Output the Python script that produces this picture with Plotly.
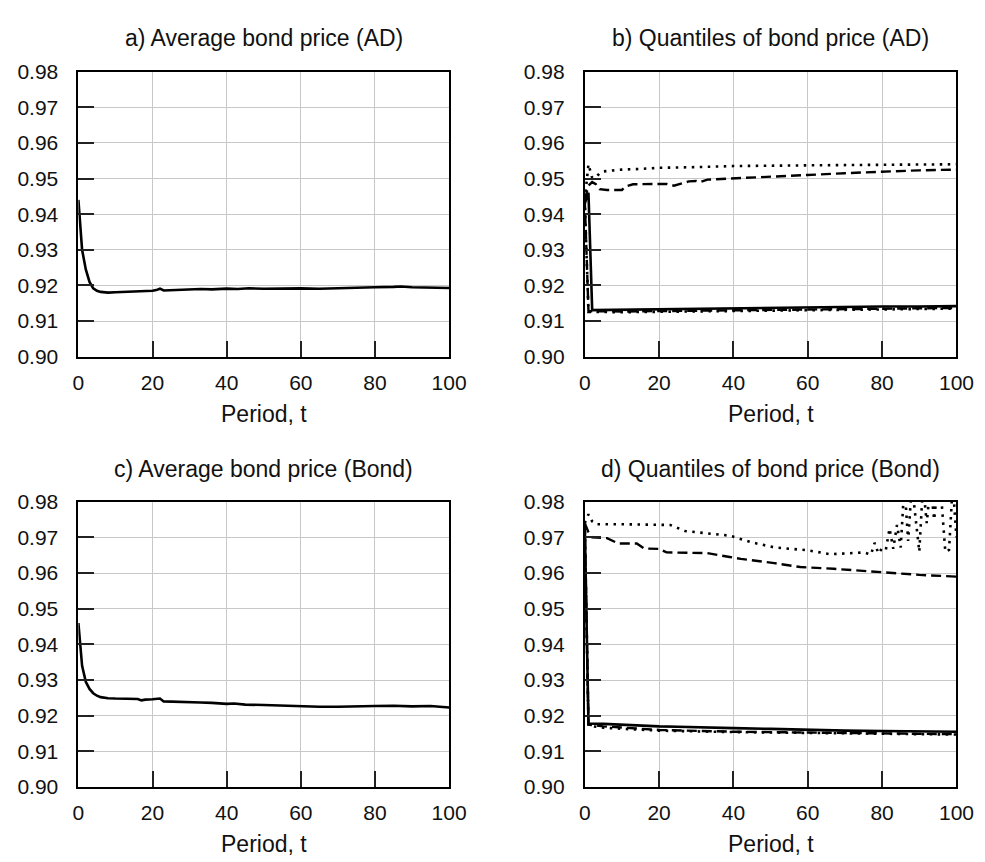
import plotly.graph_objects as go

# ---------------- data ----------------
# a) Average bond price (AD)
avg_ad_t = [0, 1, 2, 3, 4, 5, 6, 7, 8, 10, 12, 14, 16, 18, 20, 21, 22, 23, 25, 28, 30, 33, 36, 40,
            43, 46, 50, 55, 60, 65, 70, 75, 80, 85, 87, 90, 95, 100]
avg_ad_y = [0.9440, 0.9300, 0.9245, 0.9210, 0.9192, 0.9185, 0.9182, 0.9181, 0.9180, 0.9181, 0.9182,
            0.9181, 0.9183, 0.9184, 0.9185, 0.9187, 0.9191, 0.9186, 0.9187, 0.9188, 0.9188, 0.9190,
            0.9189, 0.9191, 0.9190, 0.9192, 0.9191, 0.9192, 0.9192, 0.9191, 0.9193, 0.9194, 0.9195,
            0.9196, 0.9197, 0.9195, 0.9194, 0.9193]

# c) Average bond price (Bond)
avg_bond_t = [0, 1, 2, 3, 4, 5, 6, 7, 8, 10, 12, 14, 16, 17, 18, 20, 21, 22, 23, 25, 28, 30, 33, 36,
              40, 42, 45, 50, 55, 60, 65, 70, 75, 80, 85, 90, 95, 100]
avg_bond_y = [0.9460, 0.9340, 0.9295, 0.9275, 0.9263, 0.9256, 0.9252, 0.9250, 0.9249, 0.9248, 0.9247,
              0.9248, 0.9247, 0.9243, 0.9245, 0.9246, 0.9247, 0.9248, 0.9240, 0.9239, 0.9239, 0.9238,
              0.9237, 0.9236, 0.9233, 0.9234, 0.9231, 0.9230, 0.9228, 0.9226, 0.9225, 0.9225, 0.9227,
              0.9227, 0.9228, 0.9226, 0.9227, 0.9223]

# b) Quantiles of bond price (AD)
b_q99_t = [0, 1, 2, 3, 4, 5, 7, 10, 15, 20, 30, 40, 60, 80, 100]
b_q99_y = [0.9440, 0.9540, 0.9502, 0.9503, 0.9515, 0.9520, 0.9522, 0.9525, 0.9527, 0.9530, 0.9532,
           0.9535, 0.9537, 0.9538, 0.9540]
b_q95_t = [0, 1, 2, 3, 4, 6, 10, 11, 13, 22, 24, 26, 28, 30, 31, 33, 40, 50, 60, 70, 80, 90, 100]
b_q95_y = [0.9440, 0.9480, 0.9490, 0.9484, 0.9470, 0.9468, 0.9468, 0.9478, 0.9484, 0.9485, 0.9480,
           0.9486, 0.9492, 0.9493, 0.9490, 0.9497, 0.9500, 0.9505, 0.9510, 0.9515, 0.9520, 0.9523, 0.9525]
b_q50_t = [0, 1, 2, 10, 20, 30, 40, 50, 60, 70, 80, 90, 100]
b_q50_y = [0.9430, 0.9460, 0.9131, 0.9132, 0.9133, 0.9135, 0.9137, 0.9138, 0.9139, 0.9140, 0.9141,
           0.9141, 0.9142]
b_q05_t = [0, 1, 10, 20, 30, 40, 50, 60, 70, 80, 90, 100]
b_q05_y = [0.9440, 0.9128, 0.9127, 0.9128, 0.9130, 0.9131, 0.9132, 0.9133, 0.9134, 0.9135, 0.9136, 0.9137]
b_q01_t = [0, 1, 10, 20, 30, 40, 50, 60, 70, 80, 90, 100]
b_q01_y = [0.9440, 0.9126, 0.9125, 0.9126, 0.9128, 0.9129, 0.9130, 0.9131, 0.9132, 0.9133, 0.9134, 0.9135]

# d) Quantiles of bond price (Bond)
d_q99_t = [0, 1, 2, 3, 10, 20, 23, 27, 31, 39, 45, 51, 60, 66, 70, 74, 75, 76, 77, 78, 79, 80, 81,
           82, 83, 84, 85, 86, 87, 88, 89, 90, 91, 92, 93, 94, 95, 96, 97, 98, 99, 100]
d_q99_y = [0.9740, 0.9765, 0.9745, 0.9737, 0.9737, 0.9736, 0.9735, 0.9718, 0.9713, 0.9705, 0.9686,
           0.9672, 0.9664, 0.9653, 0.9655, 0.9658, 0.9658, 0.9655, 0.9652, 0.9685, 0.9655, 0.9670,
           0.9665, 0.9725, 0.9668, 0.9735, 0.9672, 0.9850, 0.9690, 0.9850, 0.9760, 0.9660, 0.9850,
           0.9740, 0.9850, 0.9750, 0.9850, 0.9800, 0.9660, 0.9665, 0.9850, 0.9700]
d_q95_t = [0, 1, 2, 6, 9, 14, 16, 20, 22, 33, 39, 42, 51, 58, 67, 75, 82, 90, 100]
d_q95_y = [0.9740, 0.9715, 0.9700, 0.9698, 0.9683, 0.9683, 0.9669, 0.9668, 0.9658, 0.9656, 0.9645,
           0.9640, 0.9628, 0.9617, 0.9612, 0.9606, 0.9600, 0.9595, 0.9590]
d_q50_t = [0, 1, 5, 10, 20, 25, 30, 40, 50, 60, 70, 80, 90, 100]
d_q50_y = [0.9740, 0.9178, 0.9177, 0.9174, 0.9170, 0.9169, 0.9167, 0.9165, 0.9163, 0.9160, 0.9158,
           0.9157, 0.9156, 0.9155]
d_q05_t = [0, 1, 5, 10, 20, 40, 60, 80, 100]
d_q05_y = [0.9740, 0.9175, 0.9170, 0.9166, 0.9160, 0.9155, 0.9152, 0.9150, 0.9148]
d_q01_t = [0, 1, 5, 10, 20, 40, 60, 80, 100]
d_q01_y = [0.9740, 0.9172, 0.9166, 0.9163, 0.9158, 0.9154, 0.9151, 0.9149, 0.9147]

panel_titles = ["a) Average bond price (AD)", "b) Quantiles of bond price (AD)",
                "c) Average bond price (Bond)", "d) Quantiles of bond price (Bond)"]
x_title = "Period, t"
y_ticks = [0.90, 0.91, 0.92, 0.93, 0.94, 0.95, 0.96, 0.97, 0.98]
x_ticks = [0, 20, 40, 60, 80, 100]

# ---------------- figure ----------------
W, H = 985, 862
FONT = "Liberation Sans, Arial, Helvetica, sans-serif"

# pixel geometry of the four plot areas (left, right, top, bottom)
boxes = [(66, 446, 53, 346), (585, 966, 53, 346),
         (66, 446, 495, 788), (585, 966, 495, 788)]

fig = go.Figure()

solid = dict(color="black", width=2.6)
dashed = dict(color="black", width=2.4, dash="10px,5px")
dotted = dict(color="black", width=2.6, dash="2.5px,5.5px")

def add(x, y, line, idx):
    sfx = "" if idx == 1 else str(idx)
    fig.add_trace(go.Scatter(x=x, y=y, mode="lines", line=line, showlegend=False,
                             xaxis="x" + sfx, yaxis="y" + sfx, hoverinfo="skip"))

add(avg_ad_t, avg_ad_y, solid, 1)

add(b_q99_t, b_q99_y, dotted, 2)
add(b_q95_t, b_q95_y, dashed, 2)
add(b_q01_t, b_q01_y, dotted, 2)
add(b_q05_t, b_q05_y, dashed, 2)
add(b_q50_t, b_q50_y, solid, 2)

add(avg_bond_t, avg_bond_y, solid, 3)

add(d_q99_t, d_q99_y, dotted, 4)
add(d_q95_t, d_q95_y, dashed, 4)
add(d_q01_t, d_q01_y, dotted, 4)
add(d_q05_t, d_q05_y, dashed, 4)
add(d_q50_t, d_q50_y, solid, 4)

TICK_SIZE = 21
TITLE_SIZE = 23

layout = dict(width=W, height=H, margin=dict(l=0, r=0, t=0, b=0),
              paper_bgcolor="white", plot_bgcolor="white",
              font=dict(family=FONT, size=TICK_SIZE, color="#111"), showlegend=False)

annotations = []
for i, (l, r, t, b) in enumerate(boxes):
    k = i + 1
    sfx = "" if k == 1 else str(k)
    xa = dict(domain=[l / W, r / W], range=[0, 100], tickvals=x_ticks,
              ticks="inside", ticklen=16, tickwidth=1.5, tickcolor="#222",
              showgrid=True, gridcolor="#c8c8c8", gridwidth=1,
              showline=True, linecolor="black", linewidth=1.8, mirror=True,
              zeroline=False, anchor="y" + sfx, ticklabelstandoff=6,
              tickfont=dict(size=TICK_SIZE, family=FONT, color="#111"))
    ya = dict(domain=[1 - b / H, 1 - t / H], range=[0.90, 0.98], tickvals=y_ticks,
              tickformat=".2f", ticks="inside", ticklen=16, tickwidth=1.5, tickcolor="#222",
              showgrid=True, gridcolor="#c8c8c8", gridwidth=1,
              showline=True, linecolor="black", linewidth=1.8, mirror=True,
              zeroline=False, anchor="x" + sfx, ticklabelstandoff=14,
              tickfont=dict(size=TICK_SIZE, family=FONT, color="#111"))
    layout["xaxis" + sfx] = xa
    layout["yaxis" + sfx] = ya
    cx = (l + r) / 2 / W
    annotations.append(dict(text=panel_titles[i], x=cx, y=1 - (t - 34) / H, xref="paper", yref="paper",
                            showarrow=False, xanchor="center", yanchor="middle",
                            font=dict(size=TITLE_SIZE, family=FONT, color="#111")))
    annotations.append(dict(text=x_title, x=cx, y=1 - (b + 59) / H, xref="paper", yref="paper",
                            showarrow=False, xanchor="center", yanchor="middle",
                            font=dict(size=TITLE_SIZE, family=FONT, color="#111")))
layout["annotations"] = annotations
fig.update_layout(**layout)

fig.write_html("out.html")
